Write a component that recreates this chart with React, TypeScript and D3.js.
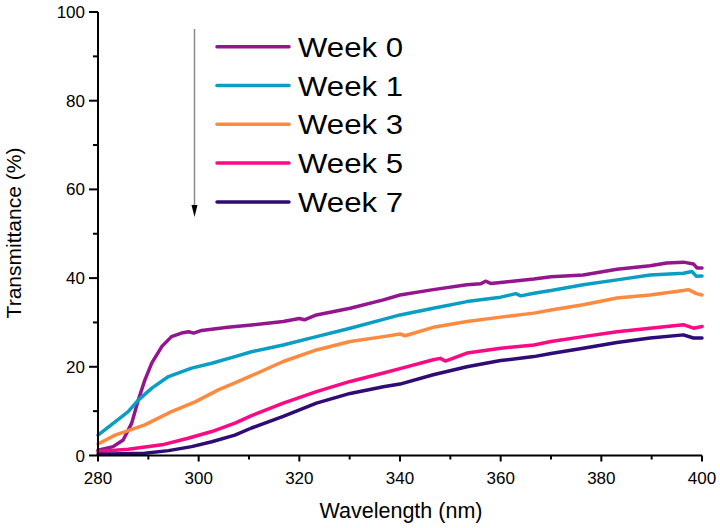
import React from 'react';
import * as d3 from 'd3';

// [wavelength (nm), transmittance (%)]
const week0: [number, number][] = [
  [280, 1.2], [283, 2.0], [285, 3.5], [286.7, 7.3], [288, 12.5], [289.3, 17], [290.7, 20.9],
  [292.7, 24.6], [294.6, 26.8], [296.6, 27.6], [298, 27.9], [299, 27.6], [300.6, 28.2],
  [305.8, 28.9], [310.5, 29.4], [316.8, 30.2], [320, 30.9], [321, 30.6], [323.4, 31.7],
  [330.1, 33.2], [336.7, 35.1], [340, 36.2], [346.6, 37.4], [353.3, 38.5], [356, 38.7],
  [357, 39.3], [358, 38.8], [360, 39.0], [366.6, 39.8], [370, 40.3], [376.4, 40.7],
  [383.1, 42.0], [389.7, 42.8], [393, 43.4], [396.3, 43.6], [398.3, 43.2], [399, 42.3], [400, 42.3],
];
const week1: [number, number][] = [
  [280, 4.6], [283.4, 7.6], [286, 9.9], [288, 12.5], [290.7, 15.2], [294, 17.8], [298.6, 19.7],
  [302.6, 20.8], [307.2, 22.3], [310.5, 23.4], [316.8, 24.9], [323.4, 26.8], [330.1, 28.7],
  [336.7, 30.7], [340, 31.7], [346.6, 33.2], [353.3, 34.7], [360, 35.7], [363, 36.5],
  [364, 36.0], [366.6, 36.6], [370, 37.2], [376.4, 38.5], [383.1, 39.6], [389.7, 40.7],
  [396.3, 41.1], [398, 41.5], [398.9, 40.4], [400, 40.5],
];
const week3: [number, number][] = [
  [280, 2.6], [283.4, 4.6], [289.3, 6.9], [294.6, 9.9], [299.3, 12.1], [303.9, 14.8],
  [307.9, 16.7], [310.5, 18.0], [316.8, 21.2], [323.4, 23.8], [330.1, 25.7], [336.7, 26.8],
  [340, 27.4], [341, 27.0], [346.6, 28.9], [353.3, 30.2], [360, 31.2], [366.6, 32.1], [370, 32.8],
  [376.4, 34.0], [383.1, 35.5], [389.7, 36.2], [396.3, 37.2], [397.3, 37.4], [398.9, 36.5],
  [400, 36.2],
];
const week5: [number, number][] = [
  [280, 0.9], [286, 1.4], [292.7, 2.4], [297.9, 3.9], [302.6, 5.4], [307.2, 7.3], [310.5, 9.0],
  [316.8, 11.8], [323.4, 14.4], [330.1, 16.7], [336.7, 18.6], [340, 19.6], [346.6, 21.6],
  [348, 21.9], [349, 21.3], [353.3, 23.1], [360, 24.2], [366.6, 24.9], [370, 25.7], [376.4, 26.8],
  [383.1, 27.9], [389.7, 28.7], [396.3, 29.5], [398.3, 28.7], [400, 29.1],
];
const week7: [number, number][] = [
  [280, 0.3], [289.3, 0.5], [294, 1.1], [298.6, 2.0], [302.6, 3.1], [307.2, 4.6], [310.5, 6.2],
  [316.8, 8.8], [323.4, 11.8], [330.1, 14.0], [336.7, 15.5], [340, 16.1], [346.6, 18.2],
  [353.3, 20.0], [360, 21.4], [366.6, 22.3], [370, 23.0], [376.4, 24.2], [383.1, 25.5],
  [389.7, 26.5], [396.3, 27.2], [398.3, 26.5], [400, 26.5],
];

const seriesNames = ['Week 0', 'Week 1', 'Week 3', 'Week 5', 'Week 7'];
const seriesData = [week0, week1, week3, week5, week7];
const seriesColors = ['#94168e', '#0a9ec5', '#fd8a3f', '#fb0a84', '#2f0b76'];

const xMajor = [280, 300, 320, 340, 360, 380, 400];
const xMinor = [290, 310, 330, 350, 370, 390];
const yMajor = [0, 20, 40, 60, 80, 100];
const yMinor = [10, 30, 50, 70, 90];

const font = 'Arial, "Liberation Sans", sans-serif';

export default function App() {
  const x = d3.scaleLinear().domain([280, 400]).range([98, 702]);
  const y = d3.scaleLinear().domain([0, 100]).range([455.5, 12]);
  const line = d3.line<[number, number]>()
    .x(d => x(d[0]))
    .y(d => y(d[1]));

  const legendX = 217;
  const legendY = 46.7;
  const legendStep = 38.8;

  return (
    <svg width={720} height={528} style={{ position: 'absolute', left: 0, top: 0, background: '#fff' }}
      fontFamily={font}>
      {/* curves */}
      {seriesData.map((s, i) => (
        <path key={i} d={line(s) || ''} fill="none" stroke={seriesColors[i]}
          strokeWidth={3.5} strokeLinejoin="round" strokeLinecap="round" />
      ))}

      {/* axes */}
      <line x1={x(280)} x2={x(400)} y1={y(0)} y2={y(0)} stroke="#000" strokeWidth={2} />
      <line x1={x(280)} x2={x(280)} y1={y(0) + 1} y2={y(100)} stroke="#000" strokeWidth={2} />
      {xMajor.map(t => (
        <g key={t}>
          <line x1={x(t)} x2={x(t)} y1={y(0)} y2={y(0) + 6} stroke="#000" strokeWidth={2} />
          <text x={x(t)} y={484} textAnchor="middle" fontSize={17}>{t}</text>
        </g>
      ))}
      {xMinor.map(t => (
        <line key={t} x1={x(t)} x2={x(t)} y1={y(0)} y2={y(0) + 4} stroke="#000" strokeWidth={2} />
      ))}
      {yMajor.map(t => (
        <g key={t}>
          <line x1={x(280) - 9} x2={x(280)} y1={y(t)} y2={y(t)} stroke="#000" strokeWidth={2} />
          <text x={85} y={y(t) + 6} textAnchor="end" fontSize={17}>{t}</text>
        </g>
      ))}
      {yMinor.map(t => (
        <line key={t} x1={x(280) - 5} x2={x(280)} y1={y(t)} y2={y(t)} stroke="#000" strokeWidth={2} />
      ))}

      {/* axis titles */}
      <text x={401} y={518} textAnchor="middle" fontSize={21.5}>Wavelength (nm)</text>
      <text transform="translate(21,233) rotate(-90)" textAnchor="middle" fontSize={21}>Transmittance (%)</text>

      {/* arrow */}
      <line x1={194.5} x2={194.5} y1={29} y2={207} stroke="#888" strokeWidth={1.5} />
      <path d="M191.5,205 L197.5,205 L194.5,217 Z" fill="#000" />

      {/* legend */}
      {seriesNames.map((n, i) => (
        <g key={n}>
          <line x1={legendX} x2={legendX + 72} y1={legendY + i * legendStep} y2={legendY + i * legendStep}
            stroke={seriesColors[i]} strokeWidth={3.5} strokeLinecap="round" />
          <text x={298} y={legendY + i * legendStep + 10} fontSize={27.5}
            textLength={105} lengthAdjust="spacingAndGlyphs">{n}</text>
        </g>
      ))}
    </svg>
  );
}
